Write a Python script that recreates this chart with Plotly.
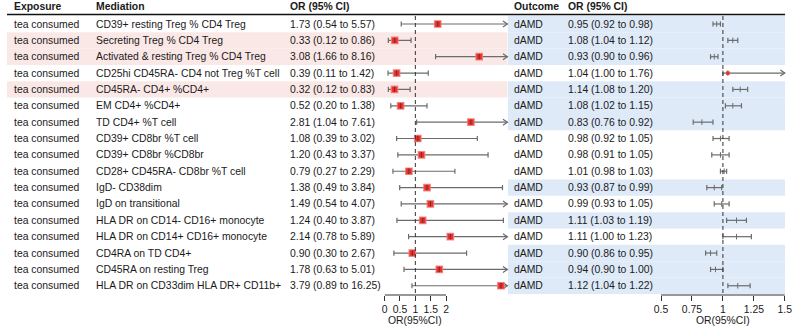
import plotly.graph_objects as go

# ---------------- data ----------------
exposure = ["tea consumed"] * 17
mediation = [
    "CD39+ resting Treg % CD4 Treg",
    "Secreting Treg % CD4 Treg",
    "Activated & resting Treg % CD4 Treg",
    "CD25hi CD45RA- CD4 not Treg %T cell",
    "CD45RA- CD4+ %CD4+",
    "EM CD4+ %CD4+",
    "TD CD4+ %T cell",
    "CD39+ CD8br %T cell",
    "CD39+ CD8br %CD8br",
    "CD28+ CD45RA- CD8br %T cell",
    "IgD- CD38dim",
    "IgD on transitional",
    "HLA DR on CD14- CD16+ monocyte",
    "HLA DR on CD14+ CD16+ monocyte",
    "CD4RA on TD CD4+",
    "CD45RA on resting Treg",
    "HLA DR on CD33dim HLA DR+ CD11b+",
]
med_or = [1.73, 0.33, 3.08, 0.39, 0.32, 0.52, 2.81, 1.08, 1.20, 0.79, 1.38, 1.49, 1.24, 2.14, 0.90, 1.78, 3.79]
med_lo = [0.54, 0.12, 1.66, 0.11, 0.12, 0.20, 1.04, 0.39, 0.43, 0.27, 0.49, 0.54, 0.40, 0.78, 0.30, 0.63, 0.89]
med_hi = [5.57, 0.86, 8.16, 1.42, 0.83, 1.38, 7.61, 3.02, 3.37, 2.29, 3.84, 4.07, 3.87, 5.89, 2.67, 5.01, 16.25]
outcome = ["dAMD"] * 17
out_or = [0.95, 1.08, 0.93, 1.04, 1.14, 1.08, 0.83, 0.98, 0.98, 1.01, 0.93, 0.99, 1.11, 1.11, 0.90, 0.94, 1.12]
out_lo = [0.92, 1.04, 0.90, 1.00, 1.08, 1.02, 0.76, 0.92, 0.91, 0.98, 0.87, 0.93, 1.03, 1.00, 0.86, 0.90, 1.04]
out_hi = [0.98, 1.12, 0.96, 1.76, 1.20, 1.15, 0.92, 1.05, 1.05, 1.03, 0.99, 1.05, 1.19, 1.23, 0.95, 1.00, 1.22]
pink_rows = [2, 3, 5]
blue_rows = [1, 2, 3, 5, 6, 7, 11, 13, 15, 16, 17]
left_ticks = [0, 0.5, 1, 1.5, 2]
left_ticktext = ["0", "0.5", "1", "1.5", "2"]
right_ticks = [0.5, 0.75, 1, 1.25, 1.5]
right_ticktext = ["0.5", "0.75", "1", "1.25", "1.5"]
headers = ["Exposure", "Mediation", "OR (95% CI)", "Outcome", "OR (95% CI)"]
axis_title = "OR(95%CI)"

# ---------------- layout geometry ----------------
W, H = 794, 328
FONT = "Liberation Sans, Arial, sans-serif"
FS = 10.4
TXT = "#1a1a1a"
ROW0, ROWH, AXIS_Y = 24.0, 16.36, 295.0
n = len(mediation)
rows = list(range(1, n + 1))


def pxx(p):
    return p / W


def pxy(p):
    return 1 - p / H


y_bot = 1 + (AXIS_Y - ROW0) / ROWH
y_top = 1 + (0 - ROW0) / ROWH

L0, LU, LCLIP, LMAXR = 381.5, 31.0, 4.0, 4.3
R0, RU, RCLIP, RMAXR = 660.7, 125.0, 1.5, 1.55

CI_COL = "#6b6b6b"


def ci_segments(lo, hi, clip, xunit):
    ch = 2.6 / ROWH
    dx = 4.5 / xunit
    dy = 3.0 / ROWH
    xs, ys = [], []
    for i, (l, h) in enumerate(zip(lo, hi)):
        y = i + 1
        hc = min(h, clip)
        xs += [l, hc, None]
        ys += [y, y, None]
        xs += [l, l, None]
        ys += [y - ch, y + ch, None]
        if h > clip:
            xs += [hc - dx, hc, hc - dx, None]
            ys += [y - dy, y, y + dy, None]
        else:
            xs += [hc, hc, None]
            ys += [y - ch, y + ch, None]
    return xs, ys


fig = go.Figure()

# left forest
lx, ly = ci_segments(med_lo, med_hi, LCLIP, LU)
fig.add_trace(go.Scatter(x=lx, y=ly, mode="lines", line=dict(color=CI_COL, width=1.2),
                         xaxis="x", yaxis="y", hoverinfo="skip", showlegend=False))
fig.add_trace(go.Scatter(x=med_or, y=rows, mode="markers",
                         marker=dict(symbol="square", size=6.5, color="#e8302c",
                                     line=dict(color="rgba(245,120,120,0.85)", width=1.2)),
                         xaxis="x", yaxis="y", cliponaxis=False, showlegend=False))
fig.add_trace(go.Scatter(x=med_or, y=rows, mode="markers",
                         marker=dict(symbol="line-ns-open", size=4, color="#7a2a2a",
                                     line=dict(color="#7a2a2a", width=1)),
                         xaxis="x", yaxis="y", cliponaxis=False, showlegend=False))

# right forest
rx, ry = ci_segments(out_lo, out_hi, RCLIP, RU)
fig.add_trace(go.Scatter(x=rx, y=ry, mode="lines", line=dict(color=CI_COL, width=1.2),
                         xaxis="x2", yaxis="y", hoverinfo="skip", showlegend=False))
fig.add_trace(go.Scatter(x=out_or, y=rows, mode="markers",
                         marker=dict(symbol="line-ns-open", size=4, color=CI_COL,
                                     line=dict(color=CI_COL, width=1)),
                         xaxis="x2", yaxis="y", cliponaxis=False, showlegend=False))
red_x = [o for o, h in zip(out_or, out_hi) if h > RCLIP]
red_y = [r for r, h in zip(rows, out_hi) if h > RCLIP]
fig.add_trace(go.Scatter(x=red_x, y=red_y, mode="markers",
                         marker=dict(symbol="square", size=3.5, color="#e8302c"),
                         xaxis="x2", yaxis="y", cliponaxis=False, showlegend=False))

shapes = []
for r in pink_rows:
    shapes.append(dict(type="rect", xref="paper", yref="y", x0=0, x1=pxx(505.5),
                       y0=r - 0.5, y1=r + 0.5, fillcolor="#fae8e7", line=dict(width=0), layer="below"))
for r in blue_rows:
    shapes.append(dict(type="rect", xref="paper", yref="y", x0=pxx(506), x1=pxx(786),
                       y0=r - 0.5, y1=r + 0.5, fillcolor="#dfeaf8", line=dict(width=0), layer="below"))
# header rule
shapes.append(dict(type="line", xref="paper", yref="paper", x0=0, x1=pxx(786),
                   y0=pxy(14.5), y1=pxy(14.5), line=dict(color="#111", width=1.4)))
# reference lines
for xr in ("x", "x2"):
    shapes.append(dict(type="line", xref=xr, yref="paper", x0=1, x1=1, y0=pxy(16), y1=pxy(293),
                       line=dict(color="#333", width=1, dash="4px,3px")))
# axis lines
shapes.append(dict(type="line", xref="x", yref="paper", x0=left_ticks[0], x1=left_ticks[-1],
                   y0=pxy(AXIS_Y), y1=pxy(AXIS_Y), line=dict(color="#333", width=1)))
shapes.append(dict(type="line", xref="x2", yref="paper", x0=right_ticks[0], x1=right_ticks[-1],
                   y0=pxy(AXIS_Y), y1=pxy(AXIS_Y), line=dict(color="#333", width=1)))

ann = []
col_x = [5, 88, 284, 510, 565]
for hx, htxt in zip(col_x, headers):
    ann.append(dict(xref="paper", yref="paper", x=pxx(hx), y=pxy(6.5), text="<b>" + htxt + "</b>",
                    showarrow=False, xanchor="left", yanchor="middle",
                    font=dict(family=FONT, size=FS, color=TXT)))
for i in range(n):
    y = i + 1
    vals = [exposure[i], mediation[i],
            f"{med_or[i]:.2f} ({med_lo[i]:.2f} to {med_hi[i]:.2f})",
            outcome[i],
            f"{out_or[i]:.2f} ({out_lo[i]:.2f} to {out_hi[i]:.2f})"]
    for cx, t in zip(col_x, vals):
        ann.append(dict(xref="paper", yref="y", x=pxx(cx), y=y, text=t, showarrow=False,
                        xanchor="left", yanchor="middle", font=dict(family=FONT, size=FS, color=TXT)))
ann.append(dict(xref="x", yref="paper", x=1, y=pxy(320), text=axis_title, showarrow=False,
                xanchor="center", yanchor="middle", font=dict(family=FONT, size=FS, color=TXT)))
ann.append(dict(xref="x2", yref="paper", x=1, y=pxy(320), text=axis_title, showarrow=False,
                xanchor="center", yanchor="middle", font=dict(family=FONT, size=FS, color=TXT)))

axis_common = dict(showgrid=False, zeroline=False, showline=False, ticks="outside", ticklen=5,
                   tickcolor="#333", tickwidth=1, tickfont=dict(family=FONT, size=FS, color=TXT),
                   anchor="y", fixedrange=True)

fig.update_layout(
    width=W, height=H, margin=dict(l=0, r=0, t=0, b=0),
    paper_bgcolor="white", plot_bgcolor="rgba(0,0,0,0)", showlegend=False,
    xaxis=dict(domain=[pxx(L0), pxx(L0 + LMAXR * LU)], range=[0, LMAXR],
               tickvals=left_ticks, ticktext=left_ticktext, **axis_common),
    xaxis2=dict(domain=[pxx(R0), pxx(R0 + (RMAXR - 0.5) * RU)], range=[0.5, RMAXR],
                tickvals=right_ticks, ticktext=right_ticktext, **axis_common),
    yaxis=dict(domain=[pxy(AXIS_Y), 1], range=[y_bot, y_top], showgrid=False, zeroline=False,
               showticklabels=False, ticks="", showline=False, fixedrange=True),
    shapes=shapes, annotations=ann,
)

fig.write_html("out.html")
